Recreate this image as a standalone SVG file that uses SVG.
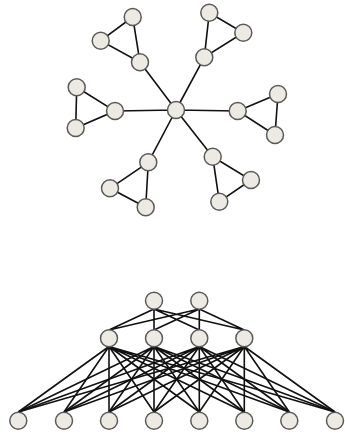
<svg xmlns="http://www.w3.org/2000/svg" width="345" height="434" viewBox="0 0 345 434">
<style>
.n{fill:#eceae2;stroke:#5a5a58;stroke-width:1.5}
.e{stroke:#111;stroke-width:1.6;fill:none}
</style>
<defs>
<circle id="c" r="8.5" class="n"/>
</defs>
<rect width="345" height="434" fill="#fff"/>
<g id="edges" class="e">
<path d="M176 110L140 62.3M176 110L204.3 57.3M176 110L115 111M176 110L237.7 111M176 110L148.3 162.3M176 110L212.7 156.7"/>
<path d="M132.7 17L100.7 40.7L140 62.3ZM209.3 12.7L243.3 32.7L204.3 57.3ZM76.7 87.3L115 111L75.7 128ZM237.7 111L278 94L275 135ZM148.3 162.3L110 188.3L145.7 207.3ZM212.7 156.7L251 180L219.3 201.7Z"/>
<path d="M154 309L109 330M154 309L154 330M154 309L199.3 330M154 309L244.3 330M199.3 309L109 330M199.3 309L154 330M199.3 309L199.3 330M199.3 309L244.3 330"/>
<path d="M109 346.5L18.3 412M109 346.5L64 412M109 346.5L109 412M109 346.5L154 412M109 346.5L199.3 412M109 346.5L244.3 412M109 346.5L289.3 412M109 346.5L335 412"/>
<path d="M154 346.5L18.3 412M154 346.5L64 412M154 346.5L109 412M154 346.5L154 412M154 346.5L199.3 412M154 346.5L244.3 412M154 346.5L289.3 412M154 346.5L335 412"/>
<path d="M199.3 346.5L18.3 412M199.3 346.5L64 412M199.3 346.5L109 412M199.3 346.5L154 412M199.3 346.5L199.3 412M199.3 346.5L244.3 412M199.3 346.5L289.3 412M199.3 346.5L335 412"/>
<path d="M244.3 346.5L18.3 412M244.3 346.5L64 412M244.3 346.5L109 412M244.3 346.5L154 412M244.3 346.5L199.3 412M244.3 346.5L244.3 412M244.3 346.5L289.3 412M244.3 346.5L335 412"/>
</g>
<g id="star-center"><use href="#c" x="176" y="110"/></g>
<g id="tri-ul"><use href="#c" x="132.7" y="17"/><use href="#c" x="100.7" y="40.7"/><use href="#c" x="140" y="62.3"/></g>
<g id="tri-ur"><use href="#c" x="209.3" y="12.7"/><use href="#c" x="243.3" y="32.7"/><use href="#c" x="204.3" y="57.3"/></g>
<g id="tri-l"><use href="#c" x="76.7" y="87.3"/><use href="#c" x="115" y="111"/><use href="#c" x="75.7" y="128"/></g>
<g id="tri-r"><use href="#c" x="237.7" y="111"/><use href="#c" x="278" y="94"/><use href="#c" x="275" y="135"/></g>
<g id="tri-ll"><use href="#c" x="148.3" y="162.3"/><use href="#c" x="110" y="188.3"/><use href="#c" x="145.7" y="207.3"/></g>
<g id="tri-lr"><use href="#c" x="212.7" y="156.7"/><use href="#c" x="251" y="180"/><use href="#c" x="219.3" y="201.7"/></g>
<g id="top-row"><use href="#c" x="154" y="300.7"/><use href="#c" x="199.3" y="300.7"/></g>
<g id="mid-row"><use href="#c" x="109" y="338.3"/><use href="#c" x="154" y="338.3"/><use href="#c" x="199.3" y="338.3"/><use href="#c" x="244.3" y="338.3"/></g>
<g id="bottom-row"><use href="#c" x="18.3" y="420.7"/><use href="#c" x="64" y="420.7"/><use href="#c" x="109" y="420.7"/><use href="#c" x="154" y="420.7"/><use href="#c" x="199.3" y="420.7"/><use href="#c" x="244.3" y="420.7"/><use href="#c" x="289.3" y="420.7"/><use href="#c" x="335" y="420.7"/></g>
</svg>
